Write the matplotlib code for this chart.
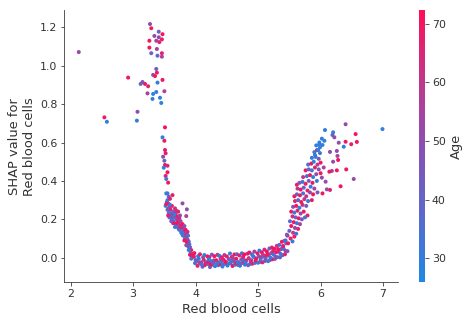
import matplotlib
matplotlib.use("Agg")
import matplotlib.pyplot as plt
import numpy as np
from matplotlib.colors import LinearSegmentedColormap

# high SHAP values, low red blood cell counts (upper left)
left_rbc = [3.27, 3.29, 3.41, 3.34, 3.47, 3.41, 3.46, 3.26, 3.37, 3.42, 2.13, 3.26, 3.38, 3.29,
            3.46, 3.39, 3.46, 3.37, 3.38, 3.32, 3.35, 2.92, 3.47, 3.15, 3.12, 3.19, 3.24, 3.39,
            3.50, 3.23, 3.37, 3.32, 3.43, 3.31, 3.45, 3.07, 2.54, 2.58, 3.06, 3.51]
left_shap = [1.217, 1.195, 1.177, 1.155, 1.164, 1.148, 1.137, 1.130, 1.130, 1.123, 1.071, 1.094,
             1.087, 1.065, 1.065, 1.052, 1.047, 0.983, 0.964, 0.952, 0.946, 0.938, 0.926, 0.915,
             0.905, 0.905, 0.893, 0.912, 0.867, 0.856, 0.863, 0.853, 0.833, 0.827, 0.806, 0.760,
             0.731, 0.708, 0.714, 0.679]
left_age = [52, 68, 42, 50, 70, 50, 68, 70, 55, 66, 52, 70, 55, 42, 68, 40, 55, 42, 70, 50,
            69, 70, 71, 48, 40, 67, 66, 30, 55, 56, 30, 28, 29, 31, 28, 50, 69, 29, 30, 72]

# steep descent
desc_rbc = [3.47, 3.50, 3.51, 3.52, 3.48, 3.50, 3.51, 3.55, 3.49, 3.55, 3.52, 3.53, 3.56, 3.53,
            3.55, 3.57, 3.55, 3.63, 3.59, 3.79, 3.86, 3.56, 3.67, 3.72, 3.62, 3.60, 3.85,
            3.54, 3.57, 3.52, 3.58, 3.62, 3.55, 3.60, 3.65, 3.57, 3.63, 3.68, 3.58, 3.66, 3.71,
            3.62, 3.70, 3.74, 3.65, 3.72, 3.76, 3.68, 3.75, 3.79, 3.71, 3.78, 3.81, 3.74, 3.80,
            3.84, 3.77, 3.83, 3.86, 3.80, 3.85, 3.88, 3.83, 3.87, 3.89, 3.86, 3.90, 3.88, 3.91,
            3.90, 3.93, 3.92, 3.95, 3.94, 3.97, 3.75, 3.69, 3.61, 3.64, 3.67, 3.82,
            3.53, 3.59, 3.56, 3.61, 3.66, 3.70, 3.73, 3.76, 3.79, 3.82, 3.85, 3.89, 3.91, 3.93,
            3.87]
desc_shap = [0.627, 0.609, 0.561, 0.544, 0.526, 0.505, 0.483, 0.479, 0.469, 0.445, 0.426, 0.410,
             0.391, 0.335, 0.335, 0.318, 0.300, 0.326, 0.307, 0.283, 0.252, 0.255, 0.257, 0.240,
             0.231, 0.226, 0.217,
             0.29, 0.28, 0.27, 0.26, 0.27, 0.25, 0.25, 0.24, 0.235, 0.22, 0.23, 0.21, 0.21, 0.215,
             0.20, 0.20, 0.205, 0.19, 0.185, 0.19, 0.175, 0.17, 0.175, 0.16, 0.155, 0.16, 0.145,
             0.14, 0.145, 0.13, 0.125, 0.13, 0.115, 0.11, 0.115, 0.10, 0.095, 0.085, 0.08, 0.07,
             0.06, 0.055, 0.045, 0.04, 0.025, 0.02, 0.01, 0.005, 0.22, 0.245, 0.215, 0.18, 0.16,
             0.165,
             0.28, 0.275, 0.22, 0.19, 0.225, 0.18, 0.15, 0.16, 0.12, 0.09, 0.065, 0.04, 0.015,
             -0.005, 0.135]
desc_age = [29, 70, 69, 68, 50, 40, 70, 66, 30, 70, 68, 30, 70, 29, 31, 45, 33, 68, 65, 52, 50,
            70, 62, 68, 48, 30, 55,
            35, 68, 30, 55, 70, 42, 66, 48, 32, 70, 60, 38, 45, 69, 30, 52, 66, 34, 70, 47, 40,
            63, 71, 33, 55, 68, 36, 44, 70, 30, 60, 50, 42, 69, 35, 31, 57, 40, 70, 33, 63, 45,
            29, 68, 38, 55, 70, 32, 52, 64, 46, 70, 30, 50,
            70, 30, 66, 43, 31, 70, 38, 66, 31, 70, 45, 30, 70, 36, 64]

# flat bottom band, read as four loose rows
low_rbc = [3.99, 4.03, 4.08, 4.11, 4.15, 4.20, 4.23, 4.27, 4.31, 4.36, 4.39, 4.43, 4.47, 4.51,
           4.56, 4.59, 4.63, 4.68, 4.71, 4.75, 4.79, 4.84, 4.87, 4.91, 4.95, 5.00, 5.03, 5.07,
           5.11, 5.16, 5.19, 5.23, 5.27, 5.31, 5.35, 5.39, 5.43, 5.47]
low_shap = [-0.028, -0.042, -0.031, -0.047, -0.038, -0.033, -0.049, -0.036, -0.044, -0.039,
            -0.035, -0.046, -0.032, -0.041, -0.028, -0.043, -0.037, -0.038, -0.042, -0.027,
            -0.036, -0.039, -0.033, -0.031, -0.027, -0.026, -0.022, -0.024, -0.017, -0.018,
            -0.012, -0.008, -0.006, 0.003, 0.002, 0.013, 0.018, 0.034]
low_age = [30, 66, 29, 45, 70, 31, 40, 62, 29, 33, 68, 30, 38, 29, 55, 71, 30, 42, 29, 64, 30,
           48, 31, 69, 36, 30, 40, 67, 45, 30, 38, 70, 50, 31, 44, 35, 68, 42]
mid_rbc = [3.97, 4.01, 4.05, 4.09, 4.13, 4.17, 4.21, 4.25, 4.29, 4.33, 4.37, 4.41, 4.45, 4.49,
           4.53, 4.57, 4.61, 4.65, 4.69, 4.73, 4.77, 4.81, 4.85, 4.89, 4.93, 4.97, 5.01, 5.05,
           5.09, 5.13, 5.17, 5.21, 5.25, 5.29, 5.33, 5.37, 5.41, 5.45]
mid_shap = [0.006, -0.019, -0.006, -0.024, -0.011, -0.023, -0.021, -0.018, -0.014, -0.013,
            -0.024, -0.02, -0.011, -0.025, -0.007, -0.017, -0.019, -0.006, -0.023, -0.009,
            -0.012, -0.014, -0.002, -0.013, 0.004, -0.004, 0.008, 0.003, 0.006, 0.009, 0.012,
            0.024, 0.016, 0.029, 0.031, 0.045, 0.046, 0.075]
mid_age = [68, 45, 31, 52, 66, 40, 70, 30, 42, 69, 50, 29, 65, 70, 47, 33, 36, 71, 55, 44, 30,
           68, 60, 49, 32, 70, 42, 66, 30, 69, 57, 45, 31, 70, 63, 48, 30, 40]
high_rbc = [3.98, 4.04, 4.07, 4.12, 4.14, 4.19, 4.22, 4.26, 4.30, 4.35, 4.38, 4.42, 4.46, 4.50,
            4.55, 4.58, 4.62, 4.66, 4.70, 4.74, 4.78, 4.83, 4.86, 4.90, 4.94, 4.99, 5.02, 5.06,
            5.10, 5.14, 5.18, 5.22, 5.26, 5.30, 5.34, 5.38, 5.42, 5.47]
high_shap = [0.024, 0.008, 0.018, 0.002, 0.014, 0.007, 0.003, 0.016, 0.008, 0.015, 0.01, 0.002,
             0.014, 0.007, 0.022, 0.004, 0.017, 0.018, 0.012, 0.023, 0.017, 0.021, 0.027, 0.018,
             0.032, 0.023, 0.037, 0.028, 0.042, 0.033, 0.048, 0.053, 0.047, 0.062, 0.067, 0.083,
             0.088, 0.115]
high_age = [70, 33, 66, 55, 29, 71, 68, 45, 70, 64, 30, 70, 58, 67, 31, 66, 70, 43, 68, 32, 72,
            65, 70, 35, 56, 68, 30, 70, 64, 71, 39, 67, 70, 62, 34, 69, 58, 70]
fill_rbc = [4.00, 4.06, 4.10, 4.16, 4.21, 4.24, 4.28, 4.34, 4.40, 4.44, 4.48, 4.53, 4.60, 4.64,
            4.67, 4.72, 4.76, 4.80, 4.88, 4.92, 4.96, 5.04, 5.08, 5.12, 5.15, 5.20, 5.24, 5.28,
            5.32, 5.36, 5.40, 5.44]
fill_shap = [-0.012, -0.025, -0.035, -0.028, -0.008, -0.036, -0.027, -0.03, -0.006, -0.034,
             -0.022, -0.03, -0.004, -0.028, -0.024, -0.032, 0.004, -0.025, -0.018, 0.008, -0.014,
             -0.008, 0.015, -0.004, 0.02, 0.0, 0.035, 0.005, 0.045, 0.02, 0.06, 0.035]
fill_age = [40, 58, 33, 66, 30, 70, 45, 31, 62, 36, 70, 29, 52, 68, 30, 41, 69, 33, 64, 30, 70,
            37, 60, 44, 70, 31, 66, 48, 70, 35, 62, 52]

# rising branch
rise_rbc = [5.40, 5.44, 5.48, 5.46, 5.52, 5.55, 5.58, 5.50, 5.56, 5.61, 5.53, 5.59, 5.64, 5.51,
            5.57, 5.62, 5.67, 5.55, 5.60, 5.65, 5.70, 5.53, 5.58, 5.63, 5.68, 5.73, 5.56, 5.61,
            5.66, 5.71, 5.77, 5.59, 5.64, 5.69, 5.74, 5.80, 5.86, 5.58, 5.62, 5.67, 5.72, 5.77,
            5.83, 5.63, 5.68, 5.73, 5.79, 5.84, 5.90, 5.62, 5.66, 5.71, 5.76, 5.81, 5.87, 5.94,
            5.72, 5.78, 5.83, 5.88, 5.93, 5.76, 5.81, 5.86, 5.91, 5.97, 5.80, 5.85, 5.89, 5.95,
            6.00, 5.86, 5.92, 5.97, 5.90, 5.94, 5.99, 5.93, 5.98, 6.02, 5.96, 5.91, 5.99, 5.98,
            6.02, 6.08, 6.00, 6.05, 5.88, 5.95, 5.79, 5.75]
rise_shap = [0.06, 0.09, 0.075, 0.12, 0.10, 0.085, 0.11, 0.14, 0.13, 0.125, 0.165, 0.155, 0.15,
             0.19, 0.185, 0.18, 0.175, 0.215, 0.21, 0.205, 0.20, 0.24, 0.235, 0.245, 0.23, 0.24,
             0.265, 0.27, 0.26, 0.275, 0.27, 0.295, 0.30, 0.29, 0.305, 0.295, 0.30, 0.32, 0.33,
             0.325, 0.335, 0.32, 0.34, 0.36, 0.355, 0.365, 0.35, 0.37, 0.36, 0.38, 0.39, 0.395,
             0.385, 0.40, 0.39, 0.40, 0.42, 0.425, 0.43, 0.42, 0.435, 0.455, 0.46, 0.455, 0.47,
             0.46, 0.485, 0.49, 0.50, 0.485, 0.495, 0.52, 0.525, 0.515, 0.55, 0.56, 0.545, 0.585,
             0.60, 0.62, 0.561, 0.535, 0.575, 0.59, 0.417, 0.396, 0.44, 0.47, 0.33, 0.34, 0.22,
             0.21]
rise_age = [68, 31, 70, 45, 66, 30, 70, 40, 62, 33, 70, 50, 68, 36, 70, 29, 55, 64, 41, 70, 47,
            70, 34, 66, 52, 69, 48, 70, 30, 63, 45, 67, 38, 70, 56, 32, 68, 70, 44, 69, 35, 61,
            50, 57, 70, 42, 66, 30, 55, 70, 48, 33, 68, 46, 70, 31, 60, 36, 70, 29, 52, 70, 40,
            31, 66, 48, 34, 70, 30, 58, 69, 31, 29, 45, 30, 62, 33, 29, 30, 31, 30, 31, 32, 29,
            52, 50, 70, 55, 70, 45, 68, 33]

# scattered points above the rising branch
right_rbc = [6.07, 6.20, 6.19, 6.22, 6.40, 6.99, 6.56, 6.29, 6.40, 6.49, 6.58, 6.37, 6.06,
             6.03, 6.15, 6.26, 6.27, 6.28, 6.20, 6.26, 6.41, 6.18, 6.53, 6.32, 6.15, 6.10, 6.03,
             6.14]
right_shap = [0.665, 0.653, 0.639, 0.627, 0.695, 0.670, 0.644, 0.599, 0.604, 0.591, 0.603,
              0.578, 0.609, 0.587, 0.551, 0.556, 0.530, 0.509, 0.500, 0.455, 0.460, 0.452,
              0.410, 0.372, 0.353, 0.356, 0.335, 0.448]
right_age = [29, 30, 40, 50, 52, 30, 70, 50, 70, 68, 70, 29, 30, 30, 52, 50, 55, 70, 52, 70,
             69, 55, 52, 70, 68, 52, 70, 69]

rbc = np.concatenate([left_rbc, desc_rbc, low_rbc, mid_rbc, high_rbc, fill_rbc, rise_rbc, right_rbc])
shap_vals = np.concatenate([left_shap, desc_shap, low_shap, mid_shap, high_shap, fill_shap,
                            rise_shap, right_shap])
age = np.concatenate([left_age, desc_age, low_age, mid_age, high_age, fill_age, rise_age, right_age])

red_blue = LinearSegmentedColormap.from_list(
    "red_blue", ["#1e88e5", "#5b6acb", "#8a4fb2", "#c2368a", "#ff0d57"])
axis_color = "#333333"

fig = plt.figure(figsize=(470 / 72, 323 / 72), dpi=72)
ax = fig.add_axes([0.137, 0.126, 0.710, 0.843])
cax = fig.add_axes([0.891, 0.127, 0.0128, 0.842])

sc = ax.scatter(rbc, shap_vals, c=age, cmap=red_blue, vmin=26, vmax=72.3, s=16, linewidth=0)

ax.set_xlim(1.9, 7.24)
ax.set_ylim(-0.128, 1.29)
ax.set_xticks([2, 3, 4, 5, 6, 7])
ax.set_yticks([0.0, 0.2, 0.4, 0.6, 0.8, 1.0, 1.2])
ax.set_xlabel("Red blood cells", color=axis_color, fontsize=13)
ax.set_ylabel("SHAP value for\nRed blood cells", color=axis_color, fontsize=13)
ax.spines["top"].set_visible(False)
ax.spines["right"].set_visible(False)
ax.spines["left"].set_color(axis_color)
ax.spines["bottom"].set_color(axis_color)
ax.tick_params(color=axis_color, labelcolor=axis_color, labelsize=11)

cb = fig.colorbar(sc, cax=cax, ticks=[30, 40, 50, 60, 70])
cb.outline.set_visible(False)
cb.set_label("Age", size=13, color=axis_color)
cb.ax.tick_params(labelsize=11, color=axis_color, labelcolor=axis_color)

fig.savefig("out.png", dpi=72)
